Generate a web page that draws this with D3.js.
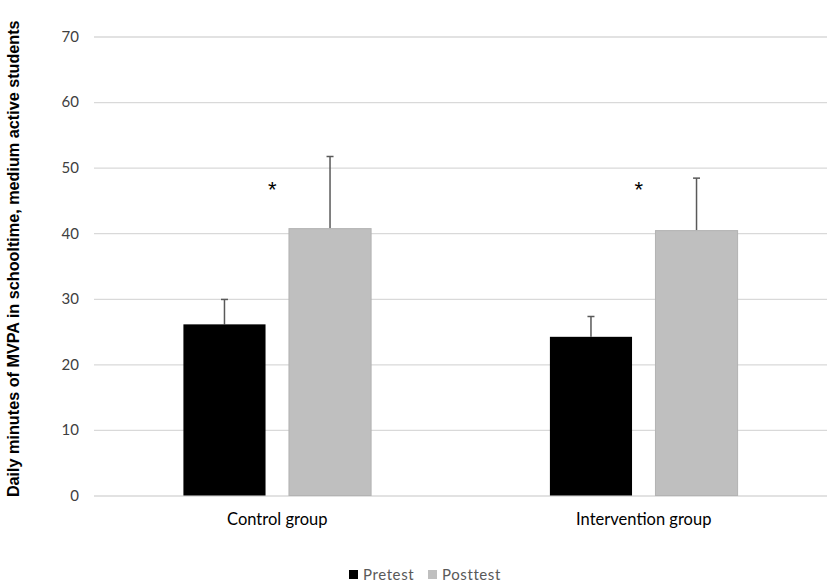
<!DOCTYPE html>
<html>
<head>
<meta charset="utf-8">
<script src="https://cdn.jsdelivr.net/npm/d3@7"></script>
<style>
  body { margin: 0; background: #fff; }
  svg text { font-family: Lato, "Open Sans", sans-serif; }
</style>
</head>
<body>
<div id="chart"></div>
<script>
// data
const groups = ["Control group", "Intervention group"];
const series = ["Pretest", "Posttest"];
const pretest = [26.1, 24.2];
const posttest = [40.7, 40.4];
const pretestErr = [3.8, 3.1];
const posttestErr = [11.0, 8.0];
const significant = [true, true];
const markerLevel = [47.4, 47.4];
const yTicks = [0, 10, 20, 30, 40, 50, 60, 70];

const colors = { Pretest: "#000000", Posttest: "#bfbfbf" };

const w = 829, h = 588;
const margin = { top: 36.5, right: 2, bottom: 92.5, left: 94 };

let svg = d3.select("#chart")
    .append("svg")
    .attr("width", w)
    .attr("height", h);

// scales
let x0 = d3.scaleBand().domain(groups)
    .range([margin.left, w - margin.right])
    .paddingInner(0).paddingOuter(0);
let x1 = d3.scaleBand().domain(series)
    .range([0, x0.bandwidth()])
    .paddingInner(0.222).paddingOuter(0.847);
let y = d3.scaleLinear().domain([0, 70]).range([h - margin.bottom, margin.top]);

// gridlines + tick labels
let yAxis = d3.axisLeft(y)
    .tickValues(yTicks)
    .tickSize(-(w - margin.left - margin.right))
    .tickPadding(15)
    .tickFormat(d3.format("d"));

let gy = svg.append("g")
    .attr("transform", `translate(${margin.left},0)`)
    .call(yAxis);
gy.select(".domain").remove();
gy.selectAll(".tick line").attr("stroke", "#d9d9d9").attr("stroke-width", 1.3);
gy.selectAll(".tick text")
    .attr("fill", "#404040")
    .style("font-size", "15px");

// build rows
let rows = groups.map(function(g, i) {
    return [
        { group: g, key: "Pretest", value: pretest[i], err: pretestErr[i] },
        { group: g, key: "Posttest", value: posttest[i], err: posttestErr[i] }
    ];
});

let groupG = svg.selectAll("g.group")
    .data(rows)
    .enter().append("g")
    .attr("class", "group")
    .attr("transform", function(d, i) { return `translate(${x0(groups[i])},0)`; });

// error bars (upper only), drawn behind bars
let err = groupG.selectAll("g.err")
    .data(function(d) { return d; })
    .enter().append("g")
    .attr("class", "err")
    .attr("stroke", "#595959")
    .attr("stroke-width", 1.5);
err.append("line")
    .attr("x1", function(d) { return x1(d.key) + x1.bandwidth() / 2; })
    .attr("x2", function(d) { return x1(d.key) + x1.bandwidth() / 2; })
    .attr("y1", function(d) { return y(d.value); })
    .attr("y2", function(d) { return y(d.value + d.err); });
err.append("line")
    .attr("x1", function(d) { return x1(d.key) + x1.bandwidth() / 2 - 3.5; })
    .attr("x2", function(d) { return x1(d.key) + x1.bandwidth() / 2 + 3.5; })
    .attr("y1", function(d) { return y(d.value + d.err); })
    .attr("y2", function(d) { return y(d.value + d.err); });

groupG.selectAll("rect")
    .data(function(d) { return d; })
    .enter().append("rect")
    .attr("x", function(d) { return x1(d.key); })
    .attr("width", x1.bandwidth())
    .attr("y", function(d) { return y(d.value); })
    .attr("height", function(d) { return y(0) - y(d.value); })
    .attr("fill", function(d) { return colors[d.key]; })
    .attr("stroke", function(d) { return d.key === "Posttest" ? "#b3b3b3" : "none"; })
    .attr("stroke-width", 1);

// significance markers
svg.selectAll("text.sig")
    .data(groups.filter(function(g, i) { return significant[i]; }))
    .enter().append("text")
    .attr("class", "sig")
    .attr("x", function(d) { return x0(d) + x0.bandwidth() / 2 - 5; })
    .attr("y", function(d) { return y(markerLevel[groups.indexOf(d)]) + 12.5; })
    .attr("text-anchor", "middle")
    .attr("fill", "#000")
    .style("font-family", "'Liberation Sans', Arial, sans-serif")
    .style("font-size", "22px")
    .text("*");

// category labels
svg.selectAll("text.cat")
    .data(groups)
    .enter().append("text")
    .attr("class", "cat")
    .attr("x", function(d) { return x0(d) + x0.bandwidth() / 2; })
    .attr("y", y(0) + 29)
    .attr("text-anchor", "middle")
    .attr("fill", "#000")
    .style("font-size", "16.5px")
    .text(function(d) { return d; });

// y axis title
svg.append("text")
    .attr("transform", `translate(19,${(y(0) + 22) / 2}) rotate(-90)`)
    .attr("text-anchor", "middle")
    .style("font-family", "'Liberation Sans', Arial, sans-serif")
    .style("font-weight", "bold")
    .style("font-size", "16.2px")
    .attr("fill", "#000")
    .text("Daily minutes of MVPA in schooltime, medium active students");

// legend
let legendX = [349, 428];
let legend = svg.selectAll("g.legend")
    .data(series)
    .enter().append("g")
    .attr("class", "legend")
    .attr("transform", function(d, i) { return `translate(${legendX[i]},570)`; });
legend.append("rect")
    .attr("width", 9).attr("height", 9)
    .attr("fill", function(d) { return colors[d]; });
legend.append("text")
    .attr("x", 14).attr("y", 10)
    .attr("fill", "#595959")
    .style("font-size", "15px")
    .style("letter-spacing", "0.6px")
    .text(function(d) { return d; });
</script>
</body>
</html>
